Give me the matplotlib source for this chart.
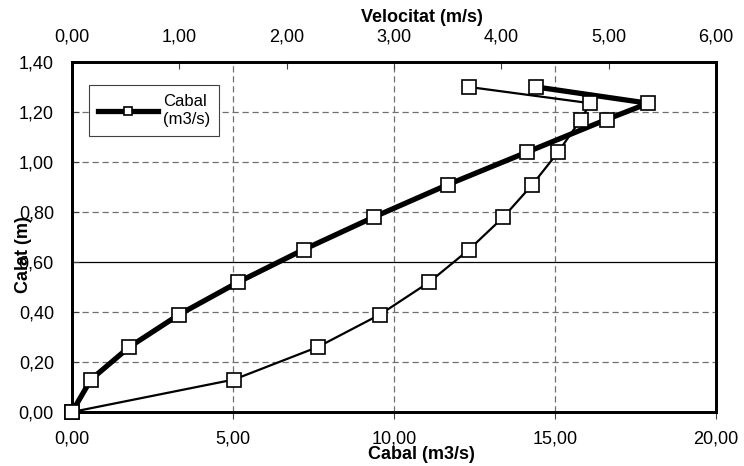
import matplotlib
matplotlib.use('Agg')
import matplotlib.pyplot as plt
from matplotlib.ticker import FuncFormatter, MultipleLocator

plt.rcParams['font.family'] = ['Liberation Sans', 'DejaVu Sans']

# depth (m), shared by both series
calat = [0.00, 0.13, 0.26, 0.39, 0.52, 0.65, 0.78, 0.91, 1.04, 1.17, 1.235, 1.30]
# flow (m3/s), bottom axis
cabal = [0.00, 0.59, 1.78, 3.33, 5.17, 7.20, 9.38, 11.68, 14.14, 16.60, 17.90, 14.42]
# velocity (m/s), top axis
velocitat = [0.00, 1.51, 2.29, 2.87, 3.33, 3.70, 4.02, 4.29, 4.53, 4.74, 4.83, 3.70]

comma = FuncFormatter(lambda v, p: f'{v:.2f}'.replace('.', ','))

fig, ax = plt.subplots(figsize=(7.44, 4.66), dpi=100)
fig.subplots_adjust(left=72/744, right=716/744, bottom=1-412/466, top=1-62/466)

ax2 = ax.twiny()

# grid (dashed, with the 0,60 line solid)
for x in [5, 10, 15]:
    ax.axvline(x, color='#707070', lw=0.9, ls=(0, (5, 3)), zorder=0)
for y in [0.2, 0.4, 0.8, 1.0, 1.2]:
    ax.axhline(y, color='#707070', lw=0.9, ls=(0, (5, 3)), zorder=0)
ax.axhline(0.6, color='black', lw=0.9, zorder=0)

ax.plot(cabal, calat, color='black', lw=3.8, marker='s', ms=10,
        mfc='white', mec='black', mew=1.2, label='Cabal\n(m3/s)',
        zorder=5, clip_on=False)
ax2.plot(velocitat, calat, color='black', lw=1.6, marker='s', ms=10,
         mfc='white', mec='black', mew=1.2, zorder=5, clip_on=False)

ax.set_xlim(0, 20)
ax.set_ylim(0, 1.4)
ax2.set_xlim(0, 6)
ax.xaxis.set_major_locator(MultipleLocator(5))
ax.yaxis.set_major_locator(MultipleLocator(0.2))
ax2.xaxis.set_major_locator(MultipleLocator(1))
ax.xaxis.set_major_formatter(comma)
ax.yaxis.set_major_formatter(comma)
ax2.xaxis.set_major_formatter(comma)

ax.tick_params(axis='both', labelsize=13, length=5, width=0.8, color='#404040')
ax.tick_params(axis='x', direction='out', pad=8)
ax.tick_params(axis='y', direction='in', pad=13)
ax2.tick_params(axis='x', labelsize=13, direction='in', length=5, width=0.8,
                color='#404040', pad=12)

for a in (ax, ax2):
    for s in a.spines.values():
        s.set_linewidth(2)
        s.set_color('black')

ax.set_xlabel('Cabal (m3/s)', fontsize=13, fontweight='bold')
ax.xaxis.set_label_coords(0.543, -0.098)
ax2.set_xlabel('Velocitat (m/s)', fontsize=13, fontweight='bold')
ax2.xaxis.set_label_coords(0.543, 1.115)
ax.set_ylabel('Calat (m)', fontsize=13, fontweight='bold')
ax.yaxis.set_label_coords(-0.062, 0.45)

leg = ax.legend(loc='upper left', bbox_to_anchor=(0.026, 0.934), borderaxespad=0,
                fancybox=False, framealpha=1, edgecolor='#404040', fontsize=12,
                handlelength=3.6, borderpad=0.55, handletextpad=0.3,
                markerscale=0.6)
leg.set_zorder(6)
leg.get_frame().set_linewidth(0.8)
for t in leg.get_texts():
    t.set_multialignment('left')

plt.savefig('out.png', dpi=100)
plt.close()
